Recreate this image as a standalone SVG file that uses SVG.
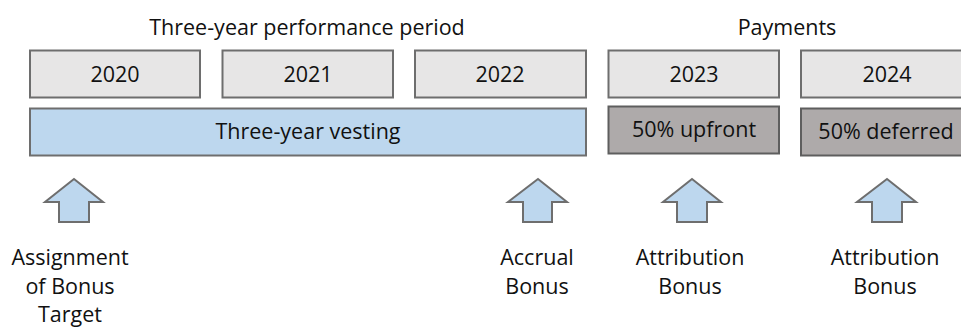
<svg xmlns="http://www.w3.org/2000/svg" width="961" height="327" viewBox="0 0 961 327">
<style>
text{font-family:"Open Sans","Liberation Sans",sans-serif;font-size:21.5px;fill:#111111;text-anchor:middle}
.year{fill:#e7e6e6;stroke:#6e6e6e;stroke-width:2}
.vest{fill:#bdd7ee;stroke:#6e6e6e;stroke-width:2}
.pay{fill:#aeaaaa;stroke:#5e5e5e;stroke-width:2}
.arrow{fill:#bdd7ee;stroke:#6e6e6e;stroke-width:2;stroke-linejoin:miter}
</style>
<rect width="961" height="327" fill="#ffffff"/>
<g id="header-performance"><text x="307" y="35">Three-year performance period</text></g>
<g id="header-payments"><text x="787" y="35">Payments</text></g>
<g id="y2020"><rect class="year" x="30" y="50.5" width="170" height="47"/><text x="115" y="82">2020</text></g>
<g id="y2021"><rect class="year" x="222.5" y="50.5" width="170.5" height="47"/><text x="308" y="82">2021</text></g>
<g id="y2022"><rect class="year" x="415" y="50.5" width="171" height="47"/><text x="500" y="82">2022</text></g>
<g id="y2023"><rect class="year" x="608.5" y="50.5" width="170.5" height="47"/><text x="694" y="82">2023</text></g>
<g id="y2024"><rect class="year" x="801" y="50.5" width="180" height="47"/><text x="887" y="82">2024</text></g>
<g id="vesting"><rect class="vest" x="30" y="108.5" width="556" height="47"/><text x="308" y="139">Three-year vesting</text></g>
<g id="upfront"><rect class="pay" x="608.5" y="106.5" width="170.5" height="47"/><text x="694" y="137">50% upfront</text></g>
<g id="deferred"><rect class="pay" x="801" y="108.5" width="180" height="47"/><text x="886" y="139">50% deferred</text></g>
<g id="connectors">
<path class="arrow" d="M74 179 L103 202 L89 202 L89 222 L59 222 L59 202 L45 202 Z"/>
<path class="arrow" d="M538 179 L567 202 L552 202 L552 222 L523 222 L523 202 L508 202 Z"/>
<path class="arrow" d="M692 179 L721 202 L707 202 L707 222 L677 222 L677 202 L663 202 Z"/>
<path class="arrow" d="M887 179 L916 202 L902 202 L902 222 L872 222 L872 202 L857 202 Z"/>
</g>
<g id="label-assignment"><text x="70" y="265">Assignment</text><text x="70" y="294">of Bonus</text><text x="70" y="322">Target</text></g>
<g id="label-accrual"><text x="537" y="265">Accrual</text><text x="537" y="294">Bonus</text></g>
<g id="label-attribution1"><text x="690" y="265">Attribution</text><text x="690" y="294">Bonus</text></g>
<g id="label-attribution2"><text x="885" y="265">Attribution</text><text x="885" y="294">Bonus</text></g>
</svg>
